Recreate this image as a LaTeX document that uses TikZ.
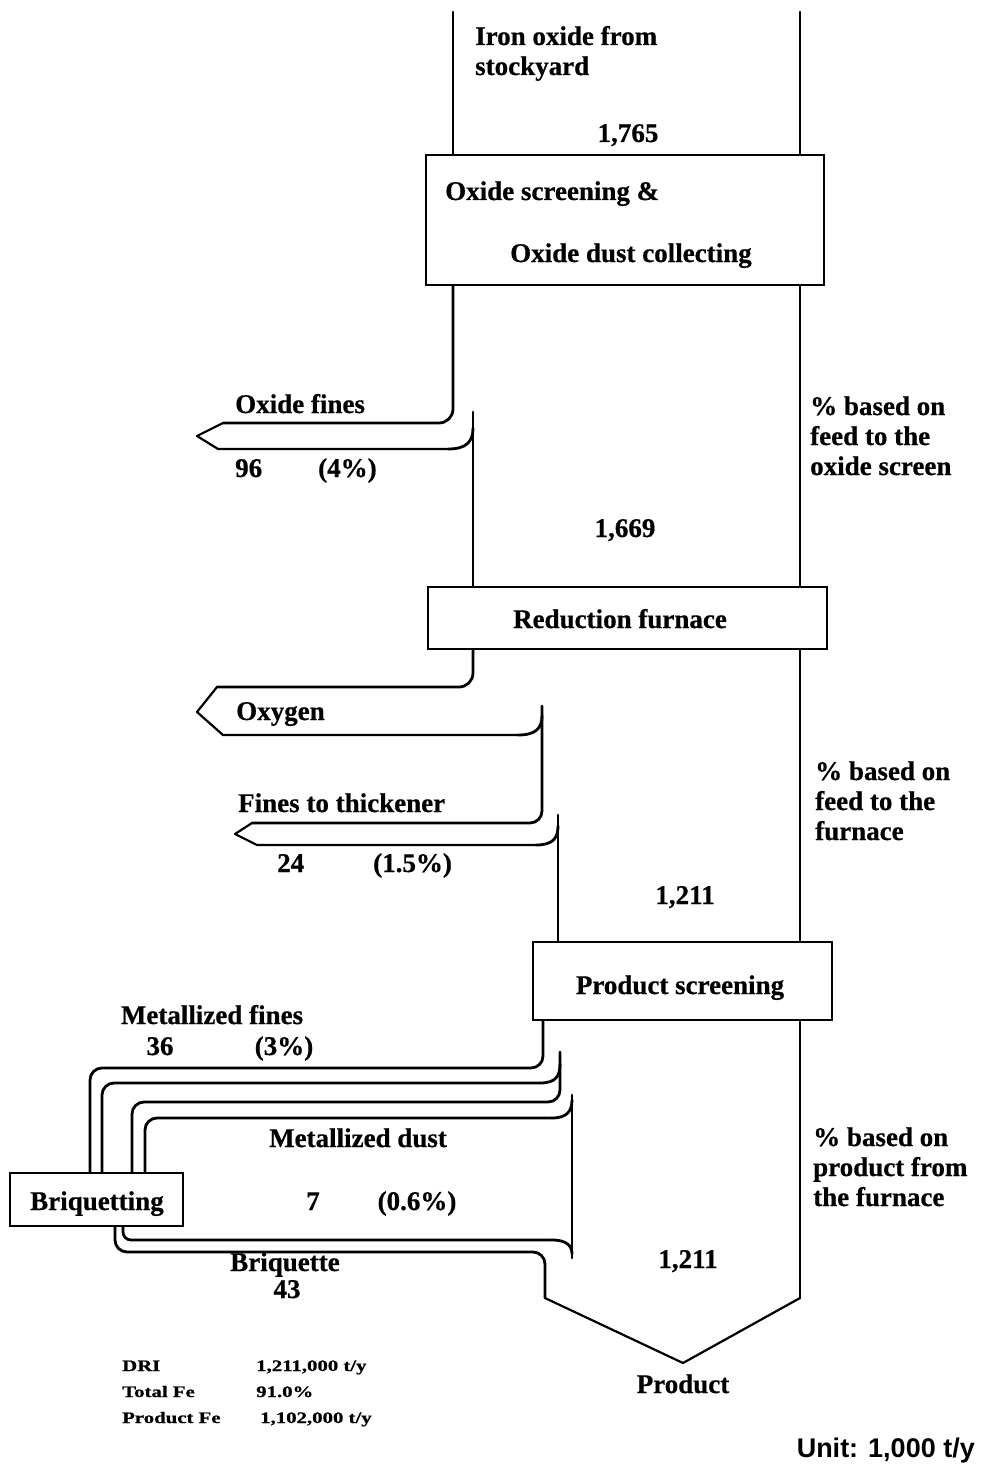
\documentclass[tikz,border=0pt]{standalone}
\usepackage{fontspec}
\setmainfont{Liberation Serif}[BoldFeatures={FakeBold=0.6}]
\newfontfamily\widefont[FakeStretch=1.3,BoldFeatures={FakeBold=0.8}]{Liberation Serif}
\newfontfamily\unitfont{Liberation Sans}
\tikzset{
  flow/.style={line width=2.8pt, line join=round, line cap=round},
  thinflow/.style={line width=2.2pt, line join=round, line cap=round},
  box/.style={draw, line width=2.2pt, fill=white, inner sep=0pt},
  lbl/.style={font=\fontsize{27}{30}\selectfont\bfseries, inner sep=0pt, anchor=base},
  lbll/.style={lbl, anchor=base west},
  small/.style={font=\widefont\fontsize{16}{18}\selectfont\bfseries, inner sep=0pt, anchor=base west},
  unit/.style={font=\unitfont\fontsize{27}{30}\selectfont\bfseries, inner sep=0pt, anchor=base east},
}
\begin{document}
\begin{tikzpicture}[x=1pt,y=-1pt]
\useasboundingbox (0,0) rectangle (983,1474);

% ---- flow boundaries ----
% feed channel and right boundary with product tip
\draw[flow] (453,12) -- (453,155);
\draw[thinflow] (545,1298) -- (683,1363) -- (800,1298);
\draw[flow] (800,1298) -- (800,12);

% oxide fines
\draw[flow, rounded corners=14] (453,285) -- (453,423) -- (223,423);
\draw[thinflow] (223,423) -- (197,436) -- (218,449) -- (448,449);
\draw[flow] (448,449) .. controls (466,449) and (473,442) .. (473,428);
\draw[flow] (473,412) -- (473,587);

% oxygen
\draw[flow, rounded corners=14] (473,649) -- (473,687) -- (217,687);
\draw[thinflow] (217,687) -- (197,712) -- (223,735) -- (518,735);
\draw[flow] (518,735) .. controls (536,735) and (542,728) .. (542,716);
\draw[flow, rounded corners=12] (542,706) -- (542,823) -- (252,823);

% fines to thickener
\draw[thinflow] (252,823) -- (235,834) -- (257,845) -- (536,845);
\draw[flow] (536,845) .. controls (553,845) and (558,838) .. (558,826);
\draw[flow] (558,815) -- (558,942);

% metallized fines
\draw[flow, rounded corners=12] (543,1020) -- (543,1068) -- (90,1068) -- (90,1173);
\draw[flow, rounded corners=12] (102,1173) -- (102,1083) -- (540,1083);
\draw[flow] (540,1083) .. controls (556,1083) and (560,1076) .. (560,1064);

% metallized dust
\draw[flow, rounded corners=12] (560,1052) -- (560,1102) -- (132,1102) -- (132,1173);
\draw[flow, rounded corners=12] (145,1173) -- (145,1118) -- (552,1118);
\draw[flow] (552,1118) .. controls (567,1118) and (572,1111) .. (572,1100);
\draw[flow] (572,1095) -- (572,1258);

% briquette
\draw[flow, rounded corners=8] (123,1226) -- (123,1240) -- (552,1240);
\draw[flow] (552,1240) .. controls (567,1240) and (572,1246) .. (572,1254);
\draw[flow, rounded corners=12] (115,1226) -- (115,1252) -- (545,1252) -- (545,1298);

% ---- boxes ----
\node[box, minimum width=398pt, minimum height=130pt] (screen) at (625,220) {};
\node[box, minimum width=399pt, minimum height=62pt] (furnace) at (627.5,618) {};
\node[box, minimum width=299pt, minimum height=78pt] (pscreen) at (682.5,981) {};
\node[box, minimum width=173pt, minimum height=53pt] (briq) at (96.5,1199.5) {};

% ---- texts ----
\node[lbll] (feed1) at (475,45) {Iron oxide from};
\node[lbll] (feed2) at (475,75) {stockyard};
\node[lbl] (v1765) at (628,142) {1,765};
\node[lbll] (scr1) at (445,200) {Oxide screening \&};
\node[lbll] (scr2) at (510,262) {Oxide dust collecting};

\node[lbll] (ofines) at (235,413) {Oxide fines};
\node[lbll] (v96) at (235,477) {96};
\node[lbll] (p4) at (318,477) {(4\%)};
\node[lbll] (b1a) at (810,415) {\% based on};
\node[lbll] (b1b) at (810,445) {feed to the};
\node[lbll] (b1c) at (810,475) {oxide screen};
\node[lbl] (v1669) at (625,537) {1,669};
\node[lbl] (furnt) at (620,628) {Reduction furnace};

\node[lbll] (oxy) at (236,720) {Oxygen};
\node[lbll] (thick) at (238,812) {Fines to thickener};
\node[lbll] (v24) at (277,872) {24};
\node[lbll] (p15) at (373,872) {(1.5\%)};
\node[lbll] (b2a) at (815,780) {\% based on};
\node[lbll] (b2b) at (815,810) {feed to the};
\node[lbll] (b2c) at (815,840) {furnace};
\node[lbl] (v1211a) at (685,904) {1,211};
\node[lbl] (pst) at (680,994) {Product screening};

\node[lbl] (mfines) at (212,1024) {Metallized fines};
\node[lbl] (v36) at (160,1055) {36};
\node[lbl] (p3) at (284,1055) {(3\%)};
\node[lbl] (mdust) at (358,1147) {Metallized dust};
\node[lbl] (v7) at (313,1210) {7};
\node[lbl] (p06) at (417,1210) {(0.6\%)};
\node[lbl] (briqt) at (97,1210) {Briquetting};
\node[lbl] (briqe) at (285,1271) {Briquette};
\node[lbl] (v43) at (287,1298) {43};
\node[lbl] (v1211b) at (688,1268) {1,211};
\node[lbll] (b3a) at (813,1146) {\% based on};
\node[lbll] (b3b) at (813,1176) {product from};
\node[lbll] (b3c) at (813,1206) {the furnace};
\node[lbl] (prod) at (683,1393) {Product};

\node[small] (dri) at (122,1371) {DRI};
\node[small] (driv) at (256,1371) {1,211,000 t/y};
\node[small] (tfe) at (122,1397) {Total Fe};
\node[small] (tfev) at (256,1397) {91.0\%};
\node[small] (pfe) at (122,1423) {Product Fe};
\node[small] (pfev) at (260,1423) {1,102,000 t/y};
\node[unit] (unitt) at (975,1457) {Unit: 1,000 t/y};
\end{tikzpicture}
\end{document}
